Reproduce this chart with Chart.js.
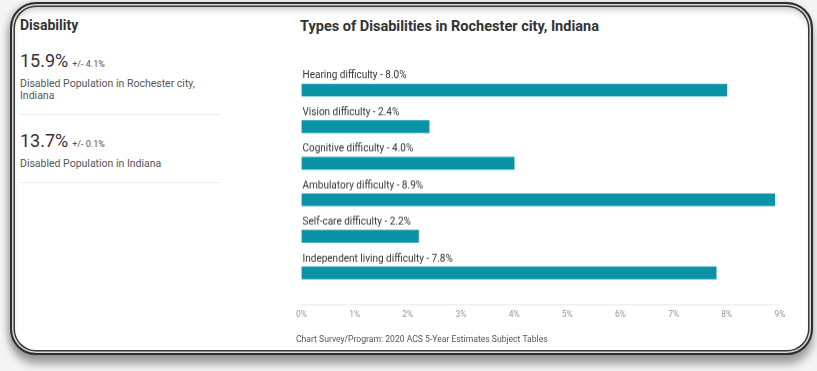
<!DOCTYPE html>
<html lang="en">
  <head>
    <meta charset="UTF-8" />
    <title>Disability</title>
    <style>
      html, body {
        margin: 0;
        padding: 0;
        width: 817px;
        height: 371px;
        background: #f4f4f4;
        overflow: hidden;
        font-family: Roboto, "Noto Sans", sans-serif;
      }
      .frame {
        position: absolute;
        left: 10px;
        top: 2px;
        width: 799px;
        height: 349px;
        border: 2px solid #2e2e2e;
        border-radius: 26px;
        background: #fff;
        box-shadow:
          inset 0 0 0 1.5px #d8d8d8,
          inset 0 0 0 3px #3a3a3a,
          inset 0 7px 8px -3px rgba(0, 0, 0, 0.3),
          0 9px 9px rgba(0, 0, 0, 0.35),
          -3px 0 6px rgba(0, 0, 0, 0.15);
      }
      .side {
        position: absolute;
        left: 20px;
        top: 14px;
        width: 200px;
        color: #333;
      }
      .side h2 {
        margin: 0 0 14px 0;
        font-size: 14px;
        font-weight: 700;
        line-height: 22px;
      }
      .stat {
        border-bottom: 1px solid #ececec;
        padding-bottom: 12px;
        margin-bottom: 15px;
      }
      .stat .big {
        font-size: 18px;
        line-height: 22px;
        color: #333;
      }
      .stat .moe {
        font-size: 9px;
        color: #555;
      }
      .stat .cap {
        font-size: 10.5px;
        line-height: 12px;
        color: #555;
        margin-top: 6px;
      }
      .title {
        position: absolute;
        left: 300px;
        top: 18px;
        font-size: 14.5px;
        font-weight: 700;
        line-height: 18px;
        color: #333;
      }
      .source {
        position: absolute;
        left: 296px;
        top: 333px;
        font-size: 8.6px;
        line-height: 12px;
        color: #555;
      }
      #wrap {
        position: absolute;
        left: 278px;
        top: 60px;
        width: 532px;
        height: 276.5px;
      }
    </style>
  </head>
  <body>
    <div class="frame"></div>
    <div class="side" id="side">
      <h2>Disability</h2>
    </div>
    <div class="title">Types of Disabilities in Rochester city, Indiana</div>
    <div id="wrap"><canvas id="typesChart"></canvas></div>
    <div class="source">Chart Survey/Program: 2020 ACS 5-Year Estimates Subject Tables</div>

    <script src="https://cdn.jsdelivr.net/npm/chart.js"></script>
    <script>
      // headline figures on the left
      const statValues = ["15.9%", "13.7%"];
      const statMargins = ["+/- 4.1%", "+/- 0.1%"];
      const statCaptions = [
        "Disabled Population in Rochester city, Indiana",
        "Disabled Population in Indiana",
      ];

      // bar chart data
      const categories = [
        "Hearing difficulty",
        "Vision difficulty",
        "Cognitive difficulty",
        "Ambulatory difficulty",
        "Self-care difficulty",
        "Independent living difficulty",
      ];
      const shares = [8.0, 2.4, 4.0, 8.9, 2.2, 7.8];
      const xTicks = [0, 1, 2, 3, 4, 5, 6, 7, 8, 9];

      const side = document.getElementById("side");
      statValues.forEach((v, i) => {
        const d = document.createElement("div");
        d.className = "stat";
        d.innerHTML =
          '<span class="big">' + v + '</span> <span class="moe">' + statMargins[i] +
          '</span><div class="cap">' + statCaptions[i] + "</div>";
        side.appendChild(d);
      });

      // category name + value above each bar
      const barLabels = {
        id: "barLabels",
        afterDatasetsDraw(chart) {
          const { ctx, chartArea } = chart;
          ctx.save();
          ctx.font = "10px Roboto";
          ctx.fillStyle = "#333";
          ctx.textAlign = "left";
          ctx.textBaseline = "bottom";
          chart.getDatasetMeta(0).data.forEach((bar, i) => {
            const txt = categories[i] + " - " + shares[i].toFixed(1) + "%";
            ctx.fillText(txt, chartArea.left + 1, bar.y - bar.height / 2 - 3);
          });
          ctx.restore();
        },
      };

      // faint baseline above the tick labels
      const baseLine = {
        id: "baseLine",
        beforeDatasetsDraw(chart) {
          const { ctx, chartArea } = chart;
          ctx.save();
          ctx.strokeStyle = "#e8e8e8";
          ctx.lineWidth = 1;
          ctx.beginPath();
          ctx.moveTo(chartArea.left, chartArea.bottom + 13.5);
          ctx.lineTo(chartArea.right, chartArea.bottom + 13.5);
          ctx.stroke();
          ctx.restore();
        },
      };

      new Chart(document.getElementById("typesChart"), {
        type: "bar",
        data: {
          labels: categories,
          datasets: [
            {
              data: shares,
              backgroundColor: "#0a93a6",
              barThickness: 12,
            },
          ],
        },
        options: {
          indexAxis: "y",
          responsive: true,
          maintainAspectRatio: false,
          animation: false,
          layout: { padding: { left: 0, right: 30, top: 11.75, bottom: 0 } },
          scales: {
            y: { display: false },
            x: {
              min: 0,
              max: 9,
              afterBuildTicks(scale) {
                scale.ticks = xTicks.map((v) => ({ value: v }));
              },
              grid: { display: false, drawTicks: false },
              border: { display: false },
              ticks: {
                padding: 18,
                color: "#999",
                font: { family: "Roboto", size: 8.5 },
                callback: (v) => v + "%",
              },
            },
          },
          plugins: {
            legend: { display: false },
            tooltip: { enabled: false },
          },
        },
        plugins: [barLabels, baseLine],
      });
    </script>
  </body>
</html>
